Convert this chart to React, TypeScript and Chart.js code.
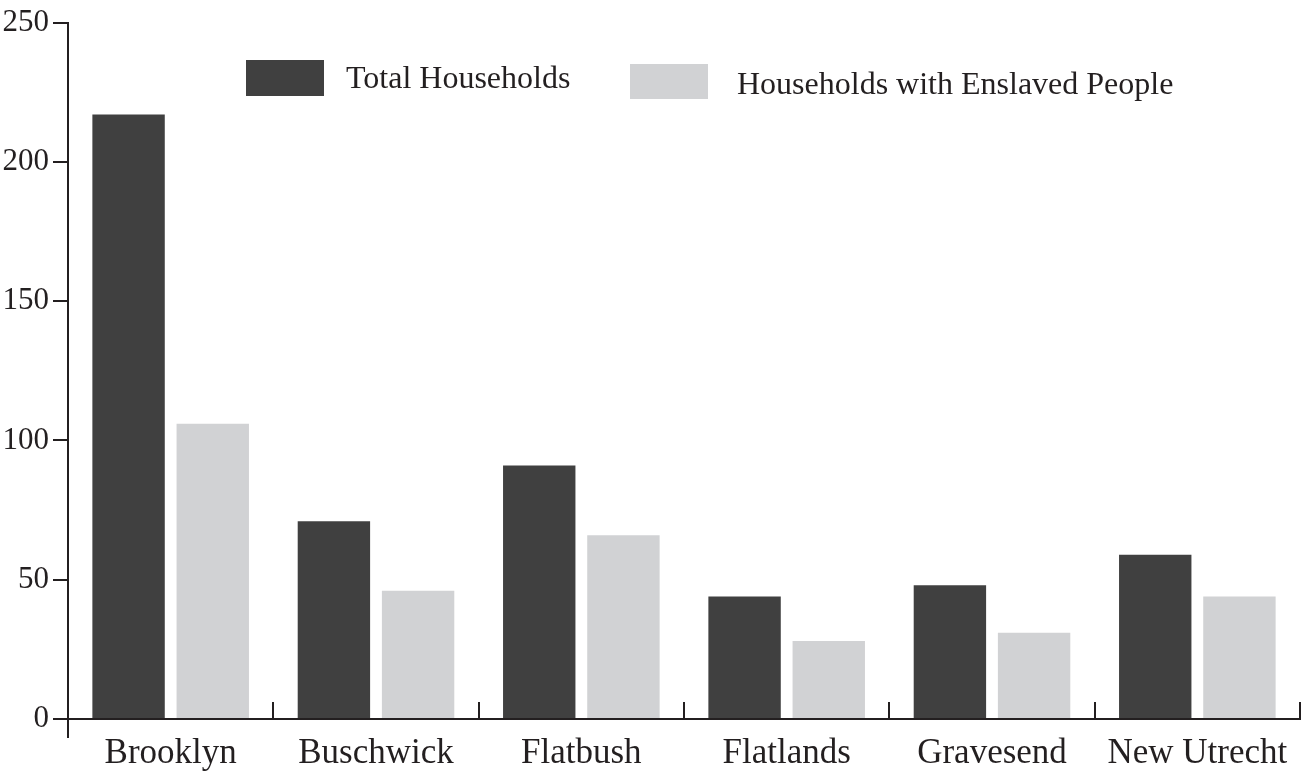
import { useEffect, useRef } from 'react';
import { Chart, ChartConfiguration, Plugin, registerables } from 'chart.js';

Chart.register(...registerables);

// Data
const towns = ['Brooklyn', 'Buschwick', 'Flatbush', 'Flatlands', 'Gravesend', 'New Utrecht'];
const totalHouseholds = [217, 71, 91, 44, 48, 59];
const enslaverHouseholds = [106, 46, 66, 28, 31, 44];
const yTicks = [0, 50, 100, 150, 200, 250];

const INK = '#231f20';
const DARK = '#404040';
const LIGHT = '#d1d2d4';
const FONT = '"Liberation Serif", "DejaVu Serif", serif';

// legend boxes sit inside the plot, upper middle
const legendSpots = [
  { x: 246, y: 60, w: 78, h: 36, tx: 346, ty: 80 },
  { x: 630, y: 64, w: 78, h: 35, tx: 737, ty: 86 },
];

const axisExtras: Plugin<'bar'> = {
  id: 'axisExtras',
  afterDraw(chart) {
    const { ctx, scales } = chart;
    const x = scales.x;
    const y = scales.y;
    ctx.save();
    ctx.strokeStyle = INK;
    ctx.lineWidth = 2;
    // category boundary ticks pointing up from the axis
    for (let i = 1; i <= towns.length; i++) {
      const px = Math.round(x.getPixelForValue(i - 0.5));
      ctx.beginPath();
      ctx.moveTo(px, y.bottom);
      ctx.lineTo(px, y.bottom - 17);
      ctx.stroke();
    }
    // y axis runs on a little below the baseline
    ctx.beginPath();
    ctx.moveTo(x.left, y.bottom);
    ctx.lineTo(x.left, y.bottom + 19);
    ctx.stroke();

    // legend
    ctx.font = `32px ${FONT}`;
    ctx.textBaseline = 'middle';
    ctx.textAlign = 'left';
    chart.data.datasets.forEach((ds, i) => {
      const s = legendSpots[i];
      ctx.fillStyle = ds.backgroundColor as string;
      ctx.fillRect(s.x, s.y, s.w, s.h);
      ctx.fillStyle = INK;
      ctx.fillText(ds.label || '', s.tx, s.ty);
    });
    ctx.restore();
  },
};

function HouseholdsChart() {
  const canvasRef = useRef<HTMLCanvasElement>(null);
  const chartRef = useRef<Chart | null>(null);

  useEffect(() => {
    if (!canvasRef.current) return;
    if (chartRef.current) chartRef.current.destroy();

    const config: ChartConfiguration<'bar'> = {
      type: 'bar',
      data: {
        labels: towns,
        datasets: [
          {
            label: 'Total Households',
            data: totalHouseholds,
            backgroundColor: DARK,
            categoryPercentage: 0.82,
            barPercentage: 0.86,
          },
          {
            label: 'Households with Enslaved People',
            data: enslaverHouseholds,
            backgroundColor: LIGHT,
            categoryPercentage: 0.82,
            barPercentage: 0.86,
          },
        ],
      },
      options: {
        animation: false,
        responsive: true,
        maintainAspectRatio: false,
        layout: { padding: { top: 17, right: 2, left: 0, bottom: 0 } },
        plugins: {
          legend: { display: false },
          tooltip: { enabled: false },
        },
        scales: {
          x: {
            grid: { display: true, drawOnChartArea: false, drawTicks: false },
            border: { display: true, color: INK, width: 2 },
            ticks: {
              color: INK,
              font: { family: FONT, size: 35 },
              padding: 14,
              maxRotation: 0,
              autoSkip: false,
            },
            afterFit: (scale) => {
              scale.height = 55;
            },
          },
          y: {
            min: 0,
            max: 250,
            afterBuildTicks: (scale) => {
              scale.ticks = yTicks.map((v) => ({ value: v }));
            },
            grid: {
              drawOnChartArea: false,
              drawTicks: true,
              tickLength: 15,
              color: INK,
              lineWidth: 2,
            },
            border: { display: true, color: INK, width: 2 },
            ticks: {
              color: INK,
              font: { family: FONT, size: 31 },
              padding: 4,
            },
            afterFit: (scale) => {
              scale.width = 68;
            },
          },
        },
      },
      plugins: [axisExtras],
    };

    chartRef.current = new Chart(canvasRef.current, config);

    return () => {
      if (chartRef.current) {
        chartRef.current.destroy();
        chartRef.current = null;
      }
    };
  }, []);

  return (
    <div style={{ position: 'fixed', left: 0, top: 0, width: 1302, height: 774, background: '#fff' }}>
      <canvas ref={canvasRef}></canvas>
    </div>
  );
}

export default function App() {
  return <HouseholdsChart />;
}
